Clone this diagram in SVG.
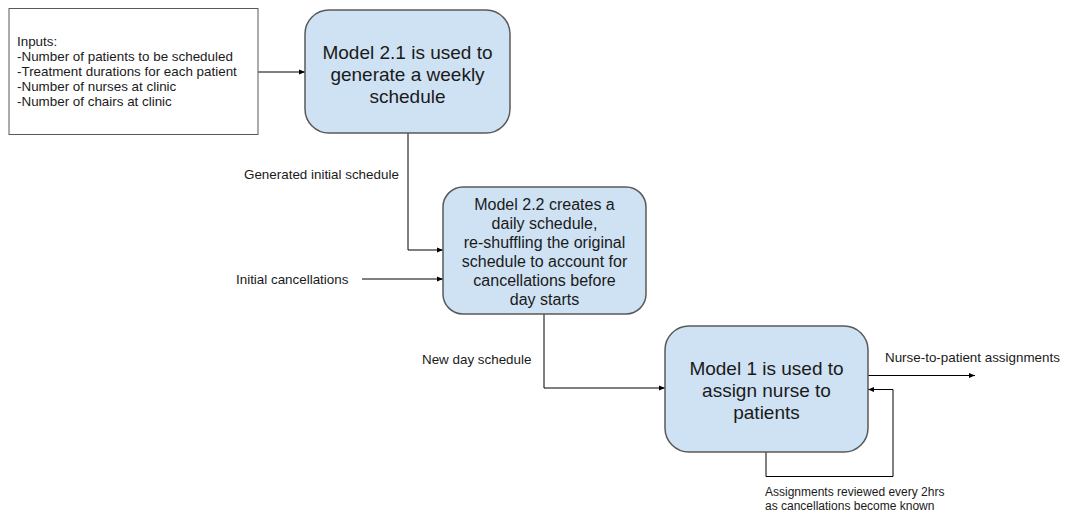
<svg xmlns="http://www.w3.org/2000/svg" width="1067" height="513" viewBox="0 0 1067 513">
<style>
.box{fill:#cfe2f3;stroke:#595959;stroke-width:1.5}
.in{fill:#ffffff;stroke:#595959;stroke-width:1}
.t{font-family:"Liberation Sans",Arial,sans-serif;fill:#1a1a1a}
.big{font-size:19px;text-anchor:middle}
.mid{font-size:16px;text-anchor:middle}
.lbl{font-size:13.4px}
.sm{font-size:12px}
.c{fill:none;stroke:#000000;stroke-width:1}
</style>
<defs>
<marker id="ah" viewBox="0 0 6 6" refX="6" refY="3" markerWidth="6" markerHeight="6" markerUnits="userSpaceOnUse" orient="auto">
<path d="M0,0.5 L6,3 L0,5.5 Z" fill="#000000"/>
</marker>
</defs>
<rect width="1067" height="513" fill="#ffffff"/>
<g id="connectors">
<path class="c" d="M258,72 L305,72" marker-end="url(#ah)"/>
<path class="c" d="M408,133 L408,250 L443,250" marker-end="url(#ah)"/>
<path class="c" d="M362,279 L443,279" marker-end="url(#ah)"/>
<path class="c" d="M544,314 L544,388 L665,388" marker-end="url(#ah)"/>
<path class="c" d="M868,375.5 L975,375.5" marker-end="url(#ah)"/>
<path class="c" d="M766,452 L766,476.5 L893,476.5 L893,389.5 L868,389.5" marker-end="url(#ah)"/>
</g>
<g id="inputs">
<rect class="in" x="9" y="8.5" width="249" height="126"/>
<text class="t lbl" x="17"><tspan x="17" y="46">Inputs:</tspan><tspan x="17" y="61">-Number of patients to be scheduled</tspan><tspan x="17" y="76">-Treatment durations for each patient</tspan><tspan x="17" y="91">-Number of nurses at clinic</tspan><tspan x="17" y="106">-Number of chairs at clinic</tspan></text>
</g>
<g id="model21">
<rect class="box" x="305" y="10" width="205" height="123" rx="24"/>
<text class="t big"><tspan x="407.5" y="58.5">Model 2.1 is used to</tspan><tspan x="407.5" y="80.5">generate a weekly</tspan><tspan x="407.5" y="102.5">schedule</tspan></text>
</g>
<g id="model22">
<rect class="box" x="443" y="187" width="203" height="127" rx="20"/>
<text class="t mid"><tspan x="544.5" y="209.5">Model 2.2 creates a</tspan><tspan x="544.5" y="228.5">daily schedule,</tspan><tspan x="544.5" y="247.5">re-shuffling the original</tspan><tspan x="544.5" y="266.5">schedule to account for</tspan><tspan x="544.5" y="285.5">cancellations before</tspan><tspan x="544.5" y="304.5">day starts</tspan></text>
</g>
<g id="model1">
<rect class="box" x="665" y="326" width="203" height="126" rx="24"/>
<text class="t big"><tspan x="766.5" y="374.5">Model 1 is used to</tspan><tspan x="766.5" y="396.5">assign nurse to</tspan><tspan x="766.5" y="418.5">patients</tspan></text>
</g>
<g id="labels">
<text class="t lbl" x="244" y="178.5">Generated initial schedule</text>
<text class="t lbl" x="236" y="283.5">Initial cancellations</text>
<text class="t lbl" x="422" y="363.5">New day schedule</text>
<text class="t lbl" x="885" y="361.5">Nurse-to-patient assignments</text>
<text class="t sm"><tspan x="765" y="496">Assignments reviewed every 2hrs</tspan><tspan x="765" y="510">as cancellations become known</tspan></text>
</g>
</svg>
